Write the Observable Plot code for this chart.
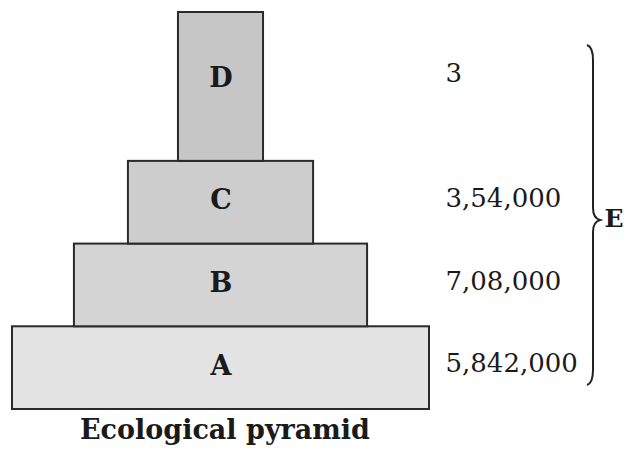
<!DOCTYPE html>
<html>
<head>
<meta charset="utf-8">
<script src="https://cdn.jsdelivr.net/npm/d3@7"></script>
<script src="https://cdn.jsdelivr.net/npm/@observablehq/plot@0.6"></script>
<style>
  body { margin: 0; background: #fff; }
  #title {
    width: 450px; text-align: center;
    font-family: "DejaVu Serif", serif; font-weight: bold; font-size: 27px;
    line-height: 30px; margin-top: 3px; color: #1a1a1a;
  }
</style>
</head>
<body>
<div id="chart"></div>
<div id="title"></div>
<script>
// ---- data ----
const levels = ["A", "B", "C", "D"];
const relativeWidth = [100, 70.3, 44.4, 20.4];   // tier width, A = 100
const tierHeight = [1, 1, 1, 1.8];                // relative tier thickness
const numbers = ["5,842,000", "7,08,000", "3,54,000", "3"];
const groupLabel = "E";
const titleText = "Ecological pyramid";
const tierFills = ["#e3e3e3", "#d4d4d4", "#cdcdcd", "#c6c6c6"];

// ---- table ----
let acc = 0;
const rows = levels.map((level, i) => {
  const y0 = acc; acc += tierHeight[i];
  return { level, w: relativeWidth[i], y0, y1: acc, mid: y0 + tierHeight[i] / 2, value: numbers[i] };
});
const total = acc;
const lowerTiers = rows.slice(0, 3);
const topTier = rows.slice(3);

const serif = "DejaVu Serif, serif";

function brace(index, scales, values, dim) {
  const xr = dim.width - dim.marginRight + 164;
  const yTop = scales.y(total) + 33;
  const yBot = scales.y(0) - 24;
  const yMid = (yTop + yBot) / 2 + 5;
  const d = `M${xr - 6},${yTop} Q${xr},${yTop + 2} ${xr},${yTop + 15} L${xr},${yMid - 12} Q${xr},${yMid - 2} ${xr + 7},${yMid} Q${xr},${yMid + 2} ${xr},${yMid + 12} L${xr},${yBot - 15} Q${xr},${yBot - 2} ${xr - 6},${yBot}`;
  const g = d3.create("svg:g");
  g.append("path").attr("d", d).attr("fill", "none").attr("stroke", "#222").attr("stroke-width", 2);
  return g.node();
}

const chart = Plot.plot({
  width: 641,
  height: 412,
  marginLeft: 12,
  marginRight: 212,
  marginTop: 12,
  marginBottom: 3,
  x: { domain: [-50, 50], axis: null },
  y: { domain: [0, total], axis: null },
  color: { domain: levels, range: tierFills },
  style: { background: "white", overflow: "visible" },
  marks: [
    Plot.rect(rows, {
      x1: d => -d.w / 2, x2: d => d.w / 2, y1: "y0", y2: "y1",
      fill: "level", stroke: "#2a2a2a", strokeWidth: 2
    }),
    Plot.text(lowerTiers, {
      y: "mid", text: "level", frameAnchor: "middle", dy: -2,
      fontFamily: serif, fontWeight: "bold", fontSize: 27, fill: "#1a1a1a"
    }),
    Plot.text(topTier, {
      y: "mid", text: "level", frameAnchor: "middle", dy: -9,
      fontFamily: serif, fontWeight: "bold", fontSize: 27, fill: "#1a1a1a"
    }),
    Plot.text(lowerTiers, {
      y: "mid", text: "value", frameAnchor: "right", textAnchor: "start", dx: 16, dy: -4,
      fontFamily: serif, fontSize: 26, fill: "#1a1a1a"
    }),
    Plot.text(topTier, {
      y: "mid", text: "value", frameAnchor: "right", textAnchor: "start", dx: 16, dy: -13,
      fontFamily: serif, fontSize: 26, fill: "#1a1a1a"
    }),
    brace,
    Plot.text([groupLabel], {
      y: total / 2, text: d => d, frameAnchor: "right", textAnchor: "start", dx: 175, dy: 8,
      fontFamily: serif, fontWeight: "bold", fontSize: 25, fill: "#1a1a1a"
    })
  ]
});
document.getElementById("chart").appendChild(chart);
document.getElementById("title").textContent = titleText;
</script>
</body>
</html>
